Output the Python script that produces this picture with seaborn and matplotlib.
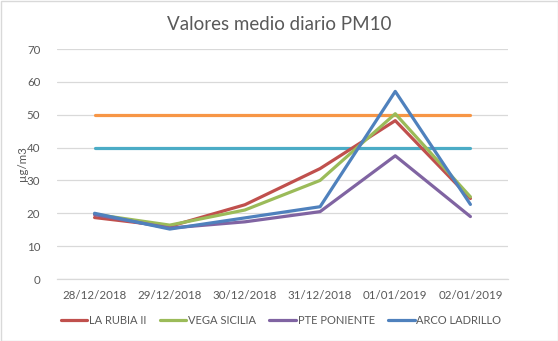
import matplotlib
matplotlib.use("Agg")
import matplotlib.pyplot as plt
import seaborn as sns
import pandas as pd
from matplotlib.lines import Line2D
from matplotlib.patches import Rectangle

dates = ["28/12/2018", "29/12/2018", "30/12/2018", "31/12/2018", "01/01/2019", "02/01/2019"]
la_rubia = [18.7, 16.0, 22.6, 33.6, 48.2, 24.5]
vega_sicilia = [19.7, 16.4, 21.0, 30.0, 50.3, 25.0]
pte_poniente = [19.6, 15.5, 17.4, 20.5, 37.5, 19.0]
arco_ladrillo = [20.0, 15.2, 18.6, 22.0, 57.1, 22.7]
limite_50 = [50, 50, 50, 50, 50, 50]
limite_40 = [40, 40, 40, 40, 40, 40]

series_names = ["LA RUBIA II", "VEGA SICILIA", "PTE PONIENTE", "ARCO LADRILLO"]
series_vals = [la_rubia, vega_sicilia, pte_poniente, arco_ladrillo]
colors = ["#C0504D", "#9BBB59", "#8064A2", "#4F81BD"]

sns.set_theme(style="white")
plt.rcParams["font.family"] = ["Lato", "DejaVu Sans"]

text_color = "#595959"
fig = plt.figure(figsize=(5.58, 3.41), dpi=100)
fig.patch.set_facecolor("white")
ax = fig.add_axes([57/558, 1-279/341, (508-57)/558, (279-49)/341])

lw = 2.3
sns.lineplot(x=dates, y=limite_50, color="#F79646", linewidth=lw, ax=ax, sort=False)
sns.lineplot(x=dates, y=limite_40, color="#4BACC6", linewidth=lw, ax=ax, sort=False)
for name, vals, c in zip(series_names, series_vals, colors):
    sns.lineplot(x=dates, y=vals, color=c, linewidth=lw, ax=ax, sort=False)

ax.set_xlim(-0.5, 5.5)
ax.set_ylim(0, 70)
ax.set_yticks(range(0, 71, 10))
ax.yaxis.grid(True, color="#D9D9D9", linewidth=0.9)
ax.set_axisbelow(True)
for s in ["left", "right", "top"]:
    ax.spines[s].set_visible(False)
ax.spines["bottom"].set_color("#D9D9D9")
ax.spines["bottom"].set_linewidth(0.9)

ax.set_xticks(range(6))
ax.set_xticklabels(dates)
ax.set_xticks([i - 0.5 for i in range(7)], minor=True)
ax.tick_params(axis="x", which="major", length=0, pad=8, labelsize=8.3, labelcolor=text_color)
ax.tick_params(axis="x", which="minor", length=5, color="#D9D9D9", width=0.9)
ax.tick_params(axis="y", length=0, pad=12, labelsize=8.3, labelcolor=text_color)
ax.set_xlabel("")
ax.set_ylabel("µg/m3", color=text_color, fontsize=8.3)
ax.yaxis.set_label_coords((28 - 57) / (508 - 57), 0.5)

fig.text(0.5, 1-25/341, "Valores medio diario PM10", ha="center", va="center",
         fontsize=13.5, color=text_color)

handles = [Line2D([0], [0], color=c, linewidth=lw) for c in colors]
leg = fig.legend(handles, series_names, loc="center", bbox_to_anchor=(281/558, 1-320/341),
                 ncol=4, frameon=False, fontsize=8, handlelength=2.4, handletextpad=0.15,
                 columnspacing=1.2)
for t in leg.get_texts():
    t.set_color(text_color)

fig.patches.append(Rectangle((0.5/558, 0.5/341), 1-1/558, 1-1/341, transform=fig.transFigure,
                             fill=False, edgecolor="#D9D9D9", linewidth=1))

fig.savefig("out.png", dpi=100)
